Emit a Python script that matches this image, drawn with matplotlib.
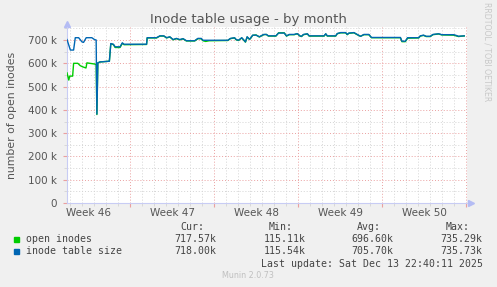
import numpy as np
import matplotlib
matplotlib.use("Agg")
import matplotlib.pyplot as plt
from matplotlib.ticker import FixedLocator
import matplotlib.transforms as mtransforms

# x values are days counted from Monday of week 46 (day 0)
table_days = [1.75, 2.03, 2.30, 2.44, 2.72, 3.00, 3.13, 3.35, 3.82, 4.04, 4.18, 4.24,
              4.32, 4.51, 5.28, 5.40, 5.62, 5.76, 6.17, 6.36, 6.50, 8.38, 8.43, 9.21,
              9.49, 9.82, 10.04, 10.32, 10.59, 10.87, 11.15, 11.42, 11.70, 12.39, 12.66,
              12.94, 13.08, 15.15, 15.37, 15.71, 15.85, 16.04, 16.31, 16.45, 16.62, 16.76,
              16.95, 17.03, 17.22, 17.50, 17.78, 17.92, 18.14, 18.36, 18.53, 19.16, 19.38,
              19.85, 20.04, 20.27, 20.68, 20.87, 20.96, 21.16, 21.29, 21.45, 21.78, 21.93,
              23.17, 23.31, 23.44, 24.14, 24.27, 24.55, 24.97, 25.10, 25.24, 25.66, 25.93,
              26.21, 26.49, 26.90, 27.12, 29.53, 29.66, 29.94, 30.13, 31.05, 31.19, 31.46,
              31.68, 32.02, 32.24, 32.71, 32.98, 33.96, 34.17, 34.38, 34.54, 34.85]
table_size = [702, 657, 657, 710, 710, 692, 690, 710, 710, 702, 700, 382,
              602, 606, 609, 685, 682, 671, 671, 688, 682, 682, 710, 710,
              718, 718, 710, 714, 702, 707, 702, 706, 697, 697, 707,
              707, 699, 699, 707, 710, 702, 699, 710, 702, 692, 714,
              704, 707, 721, 721, 714, 718, 724, 724, 718, 718, 730,
              730, 718, 724, 724, 727, 727, 718, 716, 724, 727, 718,
              718, 727, 718, 718, 728, 732, 732, 724, 730, 732, 724,
              716, 724, 724, 711, 711, 695, 695, 710, 710, 718, 721,
              716, 716, 724, 727, 723, 723, 720, 716, 717, 718]

open_days = [1.75, 1.90, 1.97, 2.05, 2.22, 2.30, 2.65, 2.85, 3.05, 3.33, 3.41, 3.65,
             4.04, 4.18, 4.24,
             4.32, 4.51, 5.28, 5.40, 5.62, 5.76, 6.17, 6.36, 6.50, 8.38, 8.43, 9.21,
             9.49, 9.82, 10.04, 10.32, 10.59, 10.87, 11.15, 11.42, 11.70, 12.39, 12.66,
             12.94, 13.08, 13.30, 13.60, 15.15, 15.37, 15.71, 15.85, 16.04, 16.31, 16.45,
             16.62, 16.76, 16.95, 17.03, 17.22, 17.50, 17.78, 17.92, 18.14, 18.36, 18.53,
             19.16, 19.38, 19.85, 20.04, 20.27, 20.68, 20.87, 20.96, 21.16, 21.29, 21.45,
             21.78, 21.93, 23.17, 23.31, 23.44, 24.14, 24.27, 24.55, 24.97, 25.10, 25.24,
             25.66, 25.93, 26.21, 26.49, 26.90, 27.12, 29.53, 29.66, 29.94, 30.13, 31.05,
             31.19, 31.46, 31.68, 32.02, 32.24, 32.71, 32.98, 33.96, 34.17, 34.38, 34.54,
             34.85]
open_inodes = [559, 528, 545, 545, 545, 600, 600, 590, 585, 580, 602, 600,
               597, 595, 380,
               602, 606, 609, 684, 680, 668, 668, 686, 680, 681, 709, 709,
               717, 717, 709, 713, 701, 706, 701, 705, 696, 696, 706,
               705, 697, 694, 697, 698, 706, 709, 701, 698, 709, 701,
               691, 713, 703, 706, 720, 722, 713, 717, 723, 724, 717,
               717, 731, 731, 717, 723, 723, 726, 726, 717, 715, 723,
               726, 717, 717, 726, 717, 717, 727, 731, 731, 723, 729,
               731, 723, 716, 723, 723, 710, 710, 693, 693, 708, 709,
               717, 720, 715, 715, 723, 726, 722, 721, 718, 715, 716,
               717.6]

week_starts = [7, 14, 21, 28, 35]
week_labels = ["Week 46", "Week 47", "Week 48", "Week 49", "Week 50"]
week_mids = [3.5, 10.5, 17.5, 24.5, 31.5]

legend_names = ["open inodes", "inode table size"]
legend_colors = ["#00cc00", "#0066b3"]
cur_vals = ["717.57k", "718.00k"]
min_vals = ["115.11k", "115.54k"]
avg_vals = ["696.60k", "705.70k"]
max_vals = ["735.29k", "735.73k"]

W, H = 497, 287


def fx(px):
    return px / W


def fy(py):
    return 1 - py / H


fig = plt.figure(figsize=(W / 100, H / 100), dpi=100, facecolor="#f0f0f0")
ax = fig.add_axes([fx(67), 1 - 203 / H, 400 / W, 176 / H])
ax.set_facecolor("white")

ax.plot(open_days, np.array(open_inodes) * 1000, color=legend_colors[0], lw=1.0, zorder=3)
ax.plot(table_days, np.array(table_size) * 1000, color=legend_colors[1], lw=1.0, zorder=4)

ax.set_xlim(1.75, 35.08)
ax.set_ylim(0, 756000)

# grid
ax.xaxis.set_major_locator(FixedLocator(week_starts))
ax.xaxis.set_minor_locator(FixedLocator(np.arange(2, 36, 1)))
ax.yaxis.set_major_locator(FixedLocator(np.arange(0, 800000, 100000)))
ax.yaxis.set_minor_locator(FixedLocator(np.arange(50000, 800000, 100000)))
ax.grid(which="minor", color="#d4d4d4", linestyle=(0, (1, 2)), lw=0.7)
ax.grid(which="major", color="#eaa0a0", linestyle=(0, (1, 2)), lw=0.7)
ax.set_axisbelow(True)

ax.set_xticklabels([])
ax.set_yticklabels(["0"] + ["%d k" % (v // 1000) for v in range(100000, 800000, 100000)])
ax.tick_params(axis="y", which="major", length=3, color="#eaa0a0", labelsize=7.5,
               labelcolor="#555555", pad=4)
ax.tick_params(axis="y", which="minor", length=2, color="#d4d4d4")
ax.tick_params(axis="x", which="major", length=3, color="#eaa0a0")
ax.tick_params(axis="x", which="minor", length=2, color="#d4d4d4")

for s in ["top", "right"]:
    ax.spines[s].set_visible(False)
for s in ["left", "bottom"]:
    ax.spines[s].set_color("#c8ccf4")
    ax.spines[s].set_linewidth(0.8)
ax.plot([0], [1.015], marker="^", color="#b4bcf4", ms=4, transform=ax.transAxes, clip_on=False)
ax.plot([1.01], [0], marker=">", color="#b4bcf4", ms=4, transform=ax.transAxes, clip_on=False)

trans = mtransforms.blended_transform_factory(ax.transData, ax.transAxes)
for d, lab in zip(week_mids, week_labels):
    ax.text(d, -10 / 176, lab, transform=trans, ha="center", va="center",
            fontsize=7.5, color="#555555")

fig.text(fx(248), fy(19), "Inode table usage - by month", ha="center", va="center",
         fontsize=9.5, color="#555555")
fig.text(fx(12), fy(115), "number of open inodes", rotation=90, ha="center", va="center",
         fontsize=7.8, color="#555555")
fig.text(fx(487), fy(52), "RRDTOOL / TOBI OETIKER", rotation=270, ha="center", va="center",
         fontsize=5.6, color="#c8c8c8")

mono = dict(family="DejaVu Sans Mono", fontsize=7.1, color="#444444", va="center")
for txt, xr in zip(["Cur:", "Min:", "Avg:", "Max:"], [204, 293, 381, 470]):
    fig.text(fx(xr), fy(227.5), txt, ha="right", **mono)
rows_y = [239.5, 251.5]
for i in range(2):
    y = rows_y[i]
    fig.patches.append(plt.Rectangle((fx(14), fy(y + 2.5)), 5 / W, 5 / H,
                                     transform=fig.transFigure, color=legend_colors[i]))
    fig.text(fx(26), fy(y), legend_names[i], ha="left", **mono)
    for vals, xr in zip([cur_vals, min_vals, avg_vals, max_vals], [216.7, 306, 393.3, 482.3]):
        fig.text(fx(xr), fy(y), vals[i], ha="right", **mono)
fig.text(fx(482.7), fy(263.7), "Last update: Sat Dec 13 22:40:11 2025", ha="right", **mono)
fig.text(fx(248), fy(276), "Munin 2.0.73", ha="center", va="center", fontsize=5.8,
         color="#c0c0c0")

fig.savefig("out.png", dpi=100, facecolor=fig.get_facecolor())
